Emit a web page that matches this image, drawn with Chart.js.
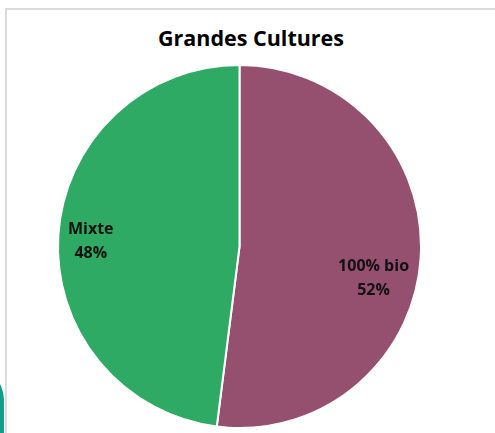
<!DOCTYPE html>
<html>
<head>
<meta charset="utf-8">
<script src="https://cdn.jsdelivr.net/npm/chart.js@4"></script>
<style>
  html, body { margin: 0; padding: 0; background: #fff; overflow: hidden; }
  body { width: 495px; height: 433px; position: relative; }
  .frame {
    position: absolute; left: 5px; top: 8px; right: -10px; bottom: -10px;
    border-left: 2px solid #dcdcdc; border-top: 2px solid #dcdcdc;
  }
  .side-shape {
    position: absolute; left: -30px; top: 366px; width: 34px; height: 120px;
    background: #119e8a; border-radius: 0 40px 0 0;
  }
  .title {
    position: absolute; left: 0; top: 23px; width: 502px; text-align: center;
    font-family: "Open Sans", sans-serif; font-weight: bold; font-size: 21.5px;
    color: #000;
  }
  #wrap { position: absolute; left: 0; top: 0; width: 495px; height: 433px; }
</style>
</head>
<body>
<div class="side-shape"></div>
<div class="frame"></div>
<div class="title">Grandes Cultures</div>
<div id="wrap"><canvas id="pie"></canvas></div>
<script>
// 数据
const categories = ['100% bio', 'Mixte'];
const shares = [52, 48];
const sliceColors = ['#955070', '#2eaa64'];

// 标签位置: 半径比例 + 角度偏移(度)
const labelPlacement = [
  { factor: 0.76, shift: 10 },
  { factor: 0.82, shift: -1.7 }
];

const sliceLabels = {
  id: 'sliceLabels',
  afterDatasetsDraw(chart) {
    const ctx = chart.ctx;
    const meta = chart.getDatasetMeta(0);
    ctx.save();
    ctx.font = 'bold 16px "Open Sans", sans-serif';
    ctx.fillStyle = '#111';
    ctx.textAlign = 'center';
    ctx.textBaseline = 'middle';
    meta.data.forEach((arc, i) => {
      const p = labelPlacement[i];
      const mid = (arc.startAngle + arc.endAngle) / 2 + p.shift * Math.PI / 180;
      const r = arc.outerRadius * p.factor;
      const x = arc.x + Math.cos(mid) * r;
      const y = arc.y + Math.sin(mid) * r;
      ctx.fillText(categories[i], x, y - 12);
      ctx.fillText(shares[i] + '%', x, y + 12);
    });
    ctx.restore();
  }
};

new Chart(document.getElementById('pie'), {
  type: 'pie',
  data: {
    labels: categories,
    datasets: [{
      data: shares,
      backgroundColor: sliceColors,
      borderColor: '#ffffff',
      borderWidth: 2
    }]
  },
  options: {
    responsive: true,
    maintainAspectRatio: false,
    animation: false,
    layout: { padding: { top: 64, bottom: 4, left: 56, right: 72 } },
    plugins: {
      legend: { display: false },
      tooltip: { enabled: false }
    }
  },
  plugins: [sliceLabels]
});
</script>
</body>
</html>
